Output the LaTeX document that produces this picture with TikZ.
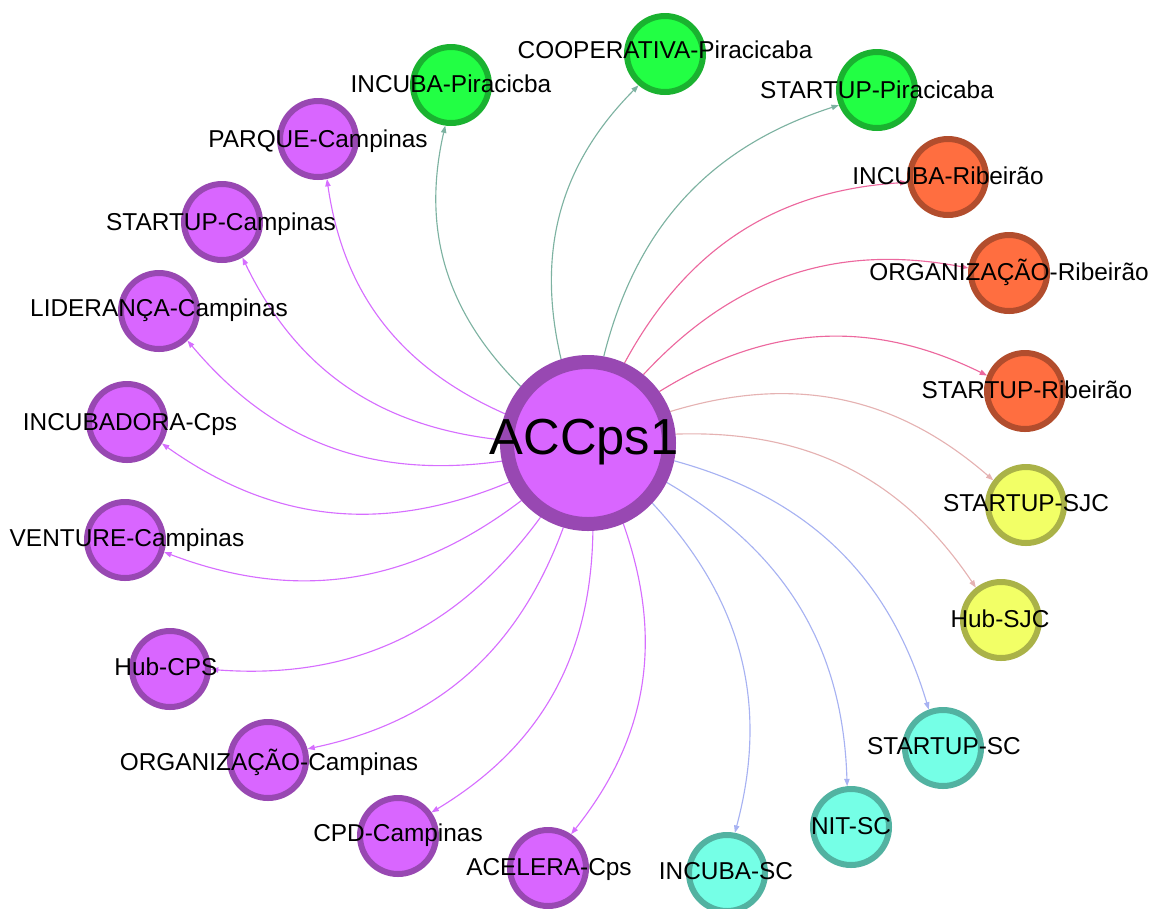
\documentclass[tikz,border=0pt]{standalone}
\usepackage{fontspec}
\setmainfont{Liberation Sans}
\usetikzlibrary{arrows.meta,backgrounds}

% node colours (fill / darker rim)
\definecolor{purFill}{RGB}{217,102,255}
\definecolor{purLine}{RGB}{152,72,178}
\definecolor{grnFill}{RGB}{34,255,68}
\definecolor{grnLine}{RGB}{26,178,48}
\definecolor{orgFill}{RGB}{255,110,64}
\definecolor{orgLine}{RGB}{178,77,45}
\definecolor{yelFill}{RGB}{242,255,102}
\definecolor{yelLine}{RGB}{170,178,72}
\definecolor{cyaFill}{RGB}{117,255,230}
\definecolor{cyaLine}{RGB}{82,178,161}
% edge colours (blend of source and target)
\definecolor{purEdge}{RGB}{214,110,255}
\definecolor{grnEdge}{RGB}{125,178,161}
\definecolor{orgEdge}{RGB}{236,104,158}
\definecolor{yelEdge}{RGB}{229,178,178}
\definecolor{cyaEdge}{RGB}{167,178,242}

\tikzset{
  vtx/.style={circle, minimum size=57pt, inner sep=0pt, line width=4.5pt},
  pur/.style={vtx, fill=purFill, draw=purLine},
  grn/.style={vtx, fill=grnFill, draw=grnLine},
  org/.style={vtx, fill=orgFill, draw=orgLine},
  yel/.style={vtx, fill=yelFill, draw=yelLine},
  cya/.style={vtx, fill=cyaFill, draw=cyaLine},
  hubvtx/.style={circle, minimum size=121.5pt, inner sep=0pt, line width=10.5pt,
    fill=purFill, draw=purLine},
  lbl/.style={font=\fontsize{18.3pt}{20pt}\selectfont, inner sep=0pt,
    anchor=base, yshift=-6.5pt},
  hublbl/.style={font=\fontsize{38pt}{40pt}\selectfont, inner sep=0pt,
    anchor=base, yshift=-13.6pt},
  link/.style={line width=0.85pt, bend left=29,
    -{Triangle[length=5.5pt,width=4pt]}},
}

\begin{document}
\begin{tikzpicture}[x=0.75pt, y=0.75pt]
\useasboundingbox (0,0) rectangle (1153,-908);

% circles
\node[hubvtx] (c) at (588,-443) {};
\node[grn] (ip)  at (451,-85)  {};
\node[grn] (cp)  at (665,-54)  {};
\node[grn] (sp)  at (877,-90)  {};
\node[org] (ir)  at (948,-177) {};
\node[org] (or)  at (1009,-273) {};
\node[org] (sr)  at (1025,-391) {};
\node[yel] (ss)  at (1026,-505) {};
\node[yel] (hs)  at (1001,-620) {};
\node[cya] (ssc) at (943,-748) {};
\node[cya] (nit) at (851,-827) {};
\node[cya] (isc) at (727,-873) {};
\node[pur] (ac)  at (548,-868) {};
\node[pur] (cpd) at (398,-836) {};
\node[pur] (oc)  at (268,-760) {};
\node[pur] (hc)  at (170,-669) {};
\node[pur] (vc)  at (125,-540) {};
\node[pur] (ic)  at (127,-422) {};
\node[pur] (lc)  at (159,-311) {};
\node[pur] (stc) at (222,-222) {};
\node[pur] (pc)  at (318,-139) {};

% connectors, drawn beneath the circles
\begin{scope}[on background layer]
\draw[link, grnEdge] (c) to (ip);
\draw[link, grnEdge] (c) to (cp);
\draw[link, grnEdge] (c) to (sp);
\draw[link, orgEdge] (c) to (ir);
\draw[link, orgEdge] (c) to (or);
\draw[link, orgEdge] (c) to (sr);
\draw[link, yelEdge] (c) to (ss);
\draw[link, yelEdge] (c) to (hs);
\draw[link, cyaEdge] (c) to (ssc);
\draw[link, cyaEdge] (c) to (nit);
\draw[link, cyaEdge] (c) to (isc);
\draw[link, purEdge] (c) to (ac);
\draw[link, purEdge] (c) to (cpd);
\draw[link, purEdge] (c) to (oc);
\draw[link, purEdge] (c) to (hc);
\draw[link, purEdge] (c) to (vc);
\draw[link, purEdge] (c) to (ic);
\draw[link, purEdge] (c) to (lc);
\draw[link, purEdge] (c) to (stc);
\draw[link, purEdge] (c) to (pc);
\end{scope}

% labels
\node[hublbl] (c-l)   at (584,-436) {ACCps1};
\node[lbl] (ip-l)  at (451,-84)  {INCUBA-Piracicba};
\node[lbl] (cp-l)  at (665,-50)  {COOPERATIVA-Piracicaba};
\node[lbl] (sp-l)  at (877,-90)  {STARTUP-Piracicaba};
\node[lbl] (ir-l)  at (948,-176) {INCUBA-Ribeirão};
\node[lbl] (or-l)  at (1009,-272) {ORGANIZAÇÃO-Ribeirão};
\node[lbl] (sr-l)  at (1027,-390) {STARTUP-Ribeirão};
\node[lbl] (ss-l)  at (1026,-503) {STARTUP-SJC};
\node[lbl] (hs-l)  at (1000,-619) {Hub-SJC};
\node[lbl] (ssc-l) at (944,-746) {STARTUP-SC};
\node[lbl] (nit-l) at (851,-826) {NIT-SC};
\node[lbl] (isc-l) at (726,-871) {INCUBA-SC};
\node[lbl] (ac-l)  at (549,-867) {ACELERA-Cps};
\node[lbl] (cpd-l) at (398,-833) {CPD-Campinas};
\node[lbl] (oc-l)  at (269,-762) {ORGANIZAÇÃO-Campinas};
\node[lbl] (hc-l)  at (166,-667) {Hub-CPS};
\node[lbl] (vc-l)  at (127,-538) {VENTURE-Campinas};
\node[lbl] (ic-l)  at (130,-422) {INCUBADORA-Cps};
\node[lbl] (lc-l)  at (159,-308) {LIDERANÇA-Campinas};
\node[lbl] (stc-l) at (221,-222) {STARTUP-Campinas};
\node[lbl] (pc-l)  at (318,-139) {PARQUE-Campinas};
\end{tikzpicture}
\end{document}
